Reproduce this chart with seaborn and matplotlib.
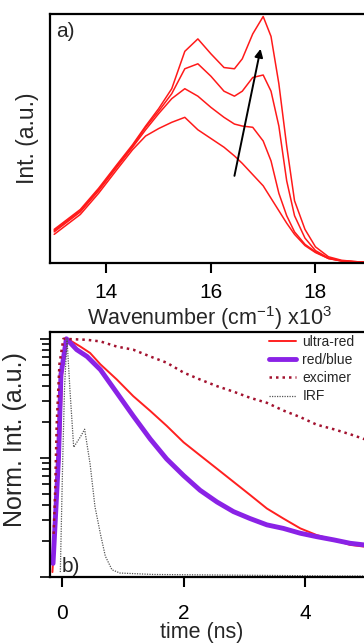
import numpy as np
import pandas as pd
import matplotlib
matplotlib.use("Agg")
import matplotlib.pyplot as plt
import matplotlib.ticker as mticker
import seaborn as sns

# ---------------- data: panel a) spectra ----------------
wavenumber = [13.0, 13.5, 13.85, 14.2, 14.5, 14.75, 15.0, 15.25, 15.5, 15.75, 16.0, 16.25, 16.45,
              16.6, 16.8, 17.0, 17.15, 17.3, 17.45, 17.6, 17.8, 18.0, 18.25, 18.5, 18.8, 19.2]
spec1 = [0.115, 0.195, 0.28, 0.375, 0.455, 0.51, 0.54, 0.565, 0.585, 0.535, 0.50, 0.465, 0.43,
         0.40, 0.355, 0.31, 0.26, 0.21, 0.16, 0.115, 0.07, 0.042, 0.018, 0.008, 0.004, 0.003]
spec2 = [0.125, 0.205, 0.29, 0.385, 0.465, 0.535, 0.60, 0.66, 0.70, 0.67, 0.625, 0.585, 0.558,
         0.55, 0.545, 0.49, 0.41, 0.28, 0.19, 0.125, 0.075, 0.045, 0.018, 0.008, 0.004, 0.003]
spec3 = [0.13, 0.21, 0.295, 0.39, 0.47, 0.545, 0.61, 0.68, 0.78, 0.80, 0.75, 0.69, 0.67,
         0.69, 0.745, 0.755, 0.69, 0.55, 0.33, 0.19, 0.10, 0.05, 0.02, 0.009, 0.005, 0.003]
spec4 = [0.135, 0.215, 0.30, 0.395, 0.475, 0.55, 0.62, 0.70, 0.85, 0.90, 0.84, 0.785, 0.78,
         0.82, 0.92, 0.99, 0.91, 0.72, 0.47, 0.25, 0.135, 0.065, 0.025, 0.011, 0.005, 0.003]
arrow_start = (16.45, 0.35)
arrow_end = (16.95, 0.86)

# ---------------- data: panel b) decays ----------------
t_ultra = [-0.16, -0.1, -0.045, 0.0, 0.07, 0.13, 0.30, 0.46, 0.63, 0.90, 1.17, 1.45, 1.72, 2.0,
           2.27, 2.55, 2.82, 3.09, 3.37, 3.64, 3.92, 4.19, 4.47, 4.74, 4.97, 5.3]
v_ultra = [0.011, 0.035, 0.1, 0.5, 1.0, 0.97, 0.86, 0.76, 0.61, 0.455, 0.33, 0.248, 0.186, 0.135,
           0.105, 0.081, 0.063, 0.049, 0.0376, 0.031, 0.0256, 0.0225, 0.0205, 0.0186, 0.018, 0.017]
t_rb = [-0.15, -0.1, -0.06, -0.02, 0.07, 0.24, 0.41, 0.63, 0.90, 1.17, 1.45, 1.72, 2.0, 2.27,
        2.55, 2.82, 3.09, 3.37, 3.64, 3.92, 4.19, 4.47, 4.74, 4.97, 5.3]
v_rb = [0.013, 0.04, 0.1, 0.5, 1.0, 0.81, 0.71, 0.55, 0.352, 0.225, 0.144, 0.098, 0.071, 0.0535,
        0.0426, 0.0354, 0.031, 0.0274, 0.0256, 0.0233, 0.0218, 0.0205, 0.0192, 0.0186, 0.018]
t_exc = [-0.14, -0.115, -0.09, -0.045, 0.02, 0.41, 0.63, 0.90, 1.17, 1.45, 1.72, 2.0, 2.27,
         2.55, 2.82, 3.09, 3.37, 3.64, 3.92, 4.19, 4.47, 4.74, 4.97, 5.3]
v_exc = [0.023, 0.053, 0.19, 0.61, 1.0, 0.98, 0.95, 0.86, 0.81, 0.71, 0.63, 0.52, 0.455,
         0.40, 0.36, 0.32, 0.29, 0.25, 0.22, 0.19, 0.174, 0.158, 0.144, 0.13]
t_irf = [-0.03, 0.01, 0.04, 0.08, 0.13, 0.19, 0.30, 0.37, 0.46, 0.54, 0.63, 0.71, 0.82, 0.95,
         1.5, 2.5, 3.5, 4.5, 5.3]
v_irf = [0.011, 0.1, 0.4, 1.0, 0.36, 0.123, 0.15, 0.174, 0.089, 0.039, 0.023, 0.015, 0.0115,
         0.0108, 0.0105, 0.0104, 0.0103, 0.0102, 0.0102]
series_names = ["ultra-red", "red/blue", "excimer", "IRF"]

# ---------------- style ----------------
sns.set_theme(style="white")
plt.rcParams["font.family"] = ["Liberation Sans", "DejaVu Sans"]
plt.rcParams["mathtext.fontset"] = "custom"
plt.rcParams["mathtext.rm"] = "Liberation Sans"
plt.rcParams["mathtext.it"] = "Liberation Sans:italic"
plt.rcParams["axes.edgecolor"] = "black"

W, H = 364, 644
fig = plt.figure(figsize=(W / 100, H / 100), dpi=100)

def fx(px):
    return px / W

def fy(py):
    return 1 - py / H

# panel a
xa0, xa1 = 12.92, 19.5
pxa_per_unit = 52.25
wa = (xa1 - xa0) * pxa_per_unit
ax1 = fig.add_axes([fx(50), fy(263), wa / W, (263 - 14) / H])
for s in [spec1, spec2, spec3, spec4]:
    sns.lineplot(x=wavenumber, y=s, ax=ax1, color="#ff1a1a", lw=1.1, sort=False, estimator=None)
ax1.set_xlim(xa0, xa1)
ax1.set_ylim(0, 1.0)
ax1.set_xticks([14, 16, 18])
ax1.set_yticks([])
ax1.annotate("", xy=arrow_end, xytext=arrow_start,
             arrowprops=dict(arrowstyle="-|>", color="black", lw=1.4, mutation_scale=12,
                             shrinkA=0, shrinkB=0))
ax1.set_ylabel("Int. (a.u.)", fontsize=16.5, labelpad=8)
ax1.set_xlabel("Wavenumber (cm$^{\\mathregular{-1}}$) x10$^{\\mathregular{3}}$", fontsize=15.5)
ax1.xaxis.set_label_coords((210 - 50) / wa, (263 - 304) / 249)
ax1.text(fx(56), fy(37), "a)", transform=fig.transFigure, fontsize=15, va="baseline")

# panel b
xb0, xb1 = -0.2, 5.5
pxb_per_unit = 60.75
wb = (xb1 - xb0) * pxb_per_unit
ax2 = fig.add_axes([fx(50), fy(577), wb / W, (577 - 332) / H])
sns.lineplot(x=t_ultra, y=v_ultra, ax=ax2, color="#ff2020", lw=1.4, sort=False,
             estimator=None, label=series_names[0])
sns.lineplot(x=t_rb, y=v_rb, ax=ax2, color="#8a22e6", lw=3.5, sort=False,
             estimator=None, label=series_names[1])
sns.lineplot(x=t_exc, y=v_exc, ax=ax2, color="#a3122f", lw=1.8, sort=False,
             estimator=None, label=series_names[2], linestyle=(0, (1, 1.6)))
sns.lineplot(x=t_irf, y=v_irf, ax=ax2, color="#555555", lw=0.9, sort=False,
             estimator=None, label=series_names[3], linestyle=(0, (1, 1)))
ax2.set_yscale("log")
ax2.set_xlim(xb0, xb1)
ax2.set_ylim(0.01, 1.14)
ax2.set_xticks([0, 2, 4])
ax2.yaxis.set_major_locator(mticker.FixedLocator([0.01, 0.1, 1]))
ax2.yaxis.set_minor_locator(mticker.LogLocator(base=10, subs=np.arange(2, 10)))
ax2.yaxis.set_major_formatter(mticker.NullFormatter())
ax2.yaxis.set_minor_formatter(mticker.NullFormatter())
ax2.set_ylabel("Norm. Int. (a.u.)", fontsize=18)
ax2.yaxis.set_label_coords(-0.065, (577 - 440) / 245)
ax2.set_xlabel("time (ns)", fontsize=15.5)
ax2.xaxis.set_label_coords((202 - 50) / wb, (577 - 622) / 245)
ax2.text(fx(62), fy(572), "b)", transform=fig.transFigure, fontsize=15, va="baseline")
leg = ax2.legend(loc="upper left", bbox_to_anchor=(fx(269), fy(335)), bbox_transform=fig.transFigure,
                 frameon=False, fontsize=10, handlelength=1.95, handletextpad=0.45,
                 labelspacing=0.3, borderpad=0, borderaxespad=0)

for ax in (ax1, ax2):
    for sp in ax.spines.values():
        sp.set_visible(True)
        sp.set_linewidth(1.6)
        sp.set_color("black")
ax1.tick_params(axis="x", which="major", direction="out", length=7, width=1.5,
                labelsize=15, pad=7.5, bottom=True, colors="black")
ax2.tick_params(axis="x", which="major", direction="out", length=7, width=1.5,
                labelsize=15, pad=12.5, bottom=True, colors="black")
ax2.tick_params(axis="y", which="both", direction="out", left=True, width=1.2, colors="black")
ax2.tick_params(axis="y", which="major", length=7)
ax2.tick_params(axis="y", which="minor", length=6)

fig.savefig("out.png", dpi=100)
